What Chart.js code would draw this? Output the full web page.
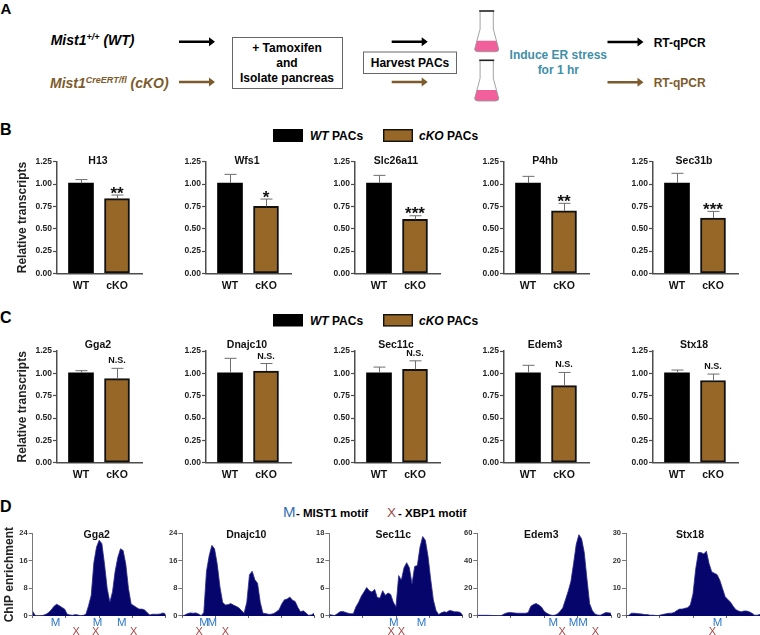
<!DOCTYPE html>
<html lang="en">
<head>
  <meta charset="UTF-8">
  <title>Mist1 cKO RT-qPCR and ChIP</title>
  <script src="https://cdn.jsdelivr.net/npm/chart.js"></script>
  <style>
    body { margin: 0; background: white; font-family: 'Liberation Sans', Arial, sans-serif; }
    #page { position: relative; width: 760px; height: 635px; overflow: hidden; }
    #page canvas { position: absolute; }
    #page svg { position: absolute; left: 0; top: 0; }
    svg text { font-weight: bold; font-family: 'Liberation Sans', Arial, sans-serif; }
  </style>
</head>
<body>
<div id="page">
  <svg width="760" height="635">
    <defs>
      <path id="arrow" d="M0 -1.3H30V-4.5L36 0L30 4.5V1.3H0Z"/>
      <g id="flask">
        <path d="M-9.8 29.7H9.8L12 38Q12.3 40.5 8.8 40.7H-8.8Q-12.3 40.5 -12 38Z" fill="#f2609c"/>
        <path d="M-6.6 0V18L-12 38Q-12.3 40.5 -8.8 40.7H8.8Q12.3 40.5 12 38L6.6 18V0" fill="none" stroke="#999" stroke-width="0.9"/>
        <rect x="-7.5" y="-0.8" width="15" height="1.6" fill="#222"/>
      </g>
    </defs>

    <text x="0.5" y="14" font-size="15">A</text>
    <text x="0" y="135" font-size="16">B</text>
    <text x="0" y="323" font-size="16">C</text>
    <text x="0" y="512" font-size="16">D</text>

    <text x="50.7" y="45" font-size="14" font-style="italic">Mist1<tspan font-size="9" dy="-5">+/+</tspan><tspan dy="5"> (WT)</tspan></text>
    <text x="50" y="87.7" font-size="14" font-style="italic" fill="#7d5b2c">Mist1<tspan font-size="9" dy="-5">CreERT/fl</tspan><tspan dy="5"> (cKO)</tspan></text>
    <use href="#arrow" x="179" y="41.7" fill="#000"/>
    <use href="#arrow" x="179" y="82" fill="#7d5b2c"/>

    <rect x="232.5" y="37.5" width="110" height="51" fill="none" stroke="#666" stroke-width="1"/>
    <text x="287" y="51.7" font-size="12" text-anchor="middle">+ Tamoxifen</text>
    <text x="287" y="66.7" font-size="12" text-anchor="middle">and</text>
    <text x="287" y="81.7" font-size="12" text-anchor="middle">Isolate pancreas</text>

    <rect x="363.5" y="52" width="93" height="21.5" fill="none" stroke="#666" stroke-width="1"/>
    <text x="410" y="66.5" font-size="12" text-anchor="middle">Harvest PACs</text>
    <use href="#arrow" x="391.7" y="41.7" fill="#000"/>
    <use href="#arrow" x="391.7" y="82" fill="#7d5b2c"/>

    <use href="#flask" x="486.7" y="11"/>
    <use href="#flask" x="486.7" y="60.3"/>

    <text x="558.3" y="59" font-size="12" fill="#3f8fa8" text-anchor="middle">Induce ER stress</text>
    <text x="558.3" y="74" font-size="12" fill="#3f8fa8" text-anchor="middle">for 1 hr</text>

    <use href="#arrow" x="607.5" y="42" fill="#000"/>
    <use href="#arrow" x="607.5" y="82.3" fill="#7d5b2c"/>
    <text x="653.7" y="46.7" font-size="12">RT-qPCR</text>
    <text x="653.7" y="86.7" font-size="12" fill="#7d5b2c">RT-qPCR</text>

    <rect x="273" y="129" width="30" height="13" fill="#000"/>
    <text x="310" y="140" font-size="12"><tspan font-style="italic">WT</tspan> PACs</text>
    <rect x="383.7" y="129.7" width="28.6" height="11.6" fill="#966726" stroke="#111" stroke-width="1.4"/>
    <text x="419" y="140" font-size="12"><tspan font-style="italic">cKO</tspan> PACs</text>

    <rect x="273" y="314" width="30" height="12.5" fill="#000"/>
    <text x="310" y="325" font-size="12"><tspan font-style="italic">WT</tspan> PACs</text>
    <rect x="383.7" y="314.7" width="28.6" height="11.2" fill="#966726" stroke="#111" stroke-width="1.4"/>
    <text x="419" y="325" font-size="12"><tspan font-style="italic">cKO</tspan> PACs</text>

    <text x="283" y="517" font-size="15" fill="#2f6fb5" style="font-weight:normal">M</text>
    <text x="296" y="517" font-size="11.5">- MIST1 motif</text>
    <text x="387" y="517" font-size="13.5" fill="#a04848" style="font-weight:normal">X</text>
    <text x="398" y="517" font-size="11.5">- XBP1 motif</text>
  </svg>
</div>

<script>
// panel B, C: relative transcripts, value then top of the error bar
const barGroups = ["WT", "cKO"];
const brown = "#966726";

const genesB = ["H13", "Wfs1", "Slc26a11", "P4hb", "Sec31b"];
const wtB = [1.01, 1.01, 1.01, 1.01, 1.01];
const wtTopB = [1.05, 1.108, 1.097, 1.086, 1.12];
const ckoB = [0.836, 0.75, 0.604, 0.70, 0.62];
const ckoTopB = [0.877, 0.832, 0.645, 0.784, 0.694];
const sigB = ["**", "*", "***", "**", "***"];

const genesC = ["Gga2", "Dnajc10", "Sec11c", "Edem3", "Stx18"];
const wtC = [1.007, 1.007, 1.007, 1.007, 1.007];
const wtTopC = [1.03, 1.168, 1.07, 1.09, 1.037];
const ckoC = [0.94, 1.026, 1.045, 0.862, 0.92];
const ckoTopC = [1.056, 1.11, 1.14, 1.01, 0.992];
const sigC = ["N.S.", "N.S.", "N.S.", "N.S.", "N.S."];

// panel D: ChIP tracks
const gga2Track = [1.4, 0.1, 0, 0.1, 0.2, 0.5, 1.0, 1.8, 2.8, 3.4, 3.0, 2.5, 2.0, 0.5, 0.3, 0.2, 0.4, 0.3, 0.1, 0.2, 0.5, 3, 6, 15.5, 20, 22, 21, 15, 8, 4, 7, 13, 17, 19.5, 19, 15, 8, 3.5, 3, 2.5, 2, 2, 1.8, 1, 0.3, 0.5, 0.5, 0.5, 0.6, 0.9, 0.5];
const dnajc10Track = [0, 0.3, 0.7, 0.9, 0.8, 0.9, 0.6, 0.1, 1, 13, 17.5, 20.5, 19.5, 15, 8.5, 4, 3.2, 3.3, 3.6, 3.2, 2.8, 2.4, 1.6, 0.8, 4, 12, 13, 10.5, 9.5, 4, 0.8, 0.7, 0.5, 0.5, 0.7, 1.2, 1.8, 3.5, 4.7, 4.9, 5.5, 4.6, 4.2, 2.5, 1.2, 1.5, 0.9, 0.2, 0.3, 0.8];
const sec11cTrack = [0.3, 0.2, 0.1, 0.5, 0.9, 1.0, 0.8, 0.6, 0.5, 0.5, 2, 3, 4.3, 5.2, 6.2, 5.5, 5.2, 5.8, 4.0, 3.9, 5.5, 4.5, 5, 4.7, 3, 2, 8.8, 7.8, 10.5, 11.6, 10.5, 7, 10.8, 11, 15, 17.3, 16.5, 13, 8, 3.5, 1.2, 0.3, 0.7, 0.9, 0.8, 1.2, 1.1, 0.9, 0.9, 0.8, 0.2];
const edem3Track = [0.5, 0.5, 0.5, 0.5, 0.5, 0.4, 0.3, 0.2, 0.1, 0.3, 1.5, 2.2, 2.6, 2.4, 2.2, 2, 2, 2, 2, 2.4, 7, 8.4, 9, 8, 6.5, 3.5, 2, 1, 0.4, 0.6, 1.5, 3.5, 6, 12, 18, 25, 38, 52, 59, 56, 46, 27, 9, 4, 1.5, 0.7, 0.6, 1.5, 2.5, 2.3, 2];
const stx18Track = [0, 0.2, 1, 1, 0.9, 0.8, 0.7, 0.5, 0.5, 0.3, 0.3, 0.2, 0.1, 0.4, 0.6, 0.8, 1, 1, 1.3, 2, 2.5, 2.5, 2.8, 3, 4, 8, 17, 23, 23, 22.5, 23.5, 19, 16, 15.5, 15, 13, 10, 7, 6, 5, 3.5, 2.3, 1.8, 1.5, 1.8, 1.8, 1.5, 1, 0.3, 0.3, 0.6];

const tracks = [gga2Track, dnajc10Track, sec11cTrack, edem3Track, stx18Track];
const trackMax = [24, 24, 18, 60, 30];
const trackStep = [8, 8, 6, 20, 10];

// motif sites in track bins
const mistSites = [[8.6, 24.4, 33.5], [8.1, 11.2], [24.2, 34.6], [28.4, 36, 39.5], [34.2]];
const xbpSites = [[16.3, 23.7, 38], [6.3, 16], [23.2, 27], [31.7, 44.2], [32.2]];

const FONT = "'Liberation Sans', Arial, sans-serif";
const page = document.getElementById("page");
const axisGray = "#4d4d4d";

function addCanvas(left, top, w, h) {
  const c = document.createElement("canvas");
  c.width = w; c.height = h;
  c.style.left = left + "px"; c.style.top = top + "px";
  page.appendChild(c);
  return c;
}

function barPanel(axisX, plotTop, gene, wt, wtTop, cko, ckoTop, sig, titleDy, yTitle) {
  const plotH = 111.7, axisLen = 85;
  const left = Math.floor(axisX) - 45, top = Math.floor(plotTop) - 20;
  const L = axisX - left, padTop = plotTop - top;
  const W = Math.ceil(L + axisLen + 2), H = Math.ceil(padTop + plotH + 26);
  const B = H - padTop - plotH;
  const tops = [wtTop, ckoTop];

  new Chart(addCanvas(left, top, W, H), {
    type: "bar",
    data: {
      datasets: [{
        data: [{ x: 1, y: wt }, { x: 2, y: cko }],
        backgroundColor: ["#000", brown],
        borderColor: "#111",
        borderWidth: [0, 2],
        borderSkipped: false,
        barThickness: 25
      }]
    },
    options: {
      responsive: false, animation: false,
      layout: { padding: { top: padTop, right: W - L - axisLen } },
      plugins: { legend: { display: false }, tooltip: { enabled: false } },
      scales: {
        x: {
          type: "linear", offset: false, min: 1 / 3, max: 1 / 3 + axisLen / 36,
          afterBuildTicks: s => { s.ticks = [{ value: 1 }, { value: 2 }]; },
          afterFit: s => { s.height = B; },
          grid: { offset: false, drawOnChartArea: false, drawTicks: false },
          border: { color: axisGray, width: 1.5 },
          ticks: { autoSkip: false, maxRotation: 0, padding: 6, color: "#111",
                   font: { family: FONT, size: 10.5, weight: "bold" },
                   callback: (v, i) => barGroups[i] }
        },
        y: {
          min: 0, max: 1.25,
          afterFit: s => { s.width = L; },
          grid: { drawOnChartArea: false, tickLength: 4, tickColor: axisGray, tickWidth: 1.2 },
          border: { color: axisGray, width: 1.5 },
          title: { display: !!yTitle, text: yTitle, color: "#222", padding: { top: 3.5, bottom: 0 },
                   font: { family: FONT, size: 12, weight: "bold" } },
          ticks: { stepSize: 0.25, padding: 1, color: "#222",
                   font: { family: FONT, size: 8.5, weight: "bold" },
                   callback: v => v.toFixed(2) }
        }
      }
    },
    plugins: [{
      id: "barNotes",
      afterDatasetsDraw(chart) {
        const { ctx, scales: { x, y } } = chart;
        ctx.save();
        ctx.strokeStyle = "#6e6e6e"; ctx.lineWidth = 1;
        [wt, cko].forEach((v, i) => {
          const px = Math.round(x.getPixelForValue(i + 1)) + 0.5;
          const py = y.getPixelForValue(tops[i]);
          ctx.beginPath();
          ctx.moveTo(px, y.getPixelForValue(v)); ctx.lineTo(px, py);
          ctx.moveTo(px - 6, py); ctx.lineTo(px + 6, py);
          ctx.stroke();
        });
        ctx.textAlign = "center"; ctx.fillStyle = "#111";
        const cx = x.getPixelForValue(2), errY = y.getPixelForValue(ckoTop);
        if (sig === "N.S.") {
          ctx.font = "bold 9px " + FONT;
          ctx.fillText(sig, cx, errY - 5);
        } else {
          ctx.font = "bold 17px " + FONT;
          ctx.fillText(sig, cx, errY + 3.5);
        }
        ctx.font = "bold 10.5px " + FONT;
        ctx.fillText(gene, axisX - left + 41, plotTop - top + titleDy);
        ctx.restore();
      }
    }]
  });
}

function trackPanel(axisX, axisLen, i, yTitle) {
  const plotTop = 533.3, plotH = 82.7;
  const left = Math.max(Math.floor(axisX) - 32, 0), top = Math.floor(plotTop) - 12;
  const L = axisX - left, padTop = plotTop - top;
  const W = Math.min(Math.ceil(L + axisLen + 2), 760 - left), H = 635 - top;
  const B = H - padTop - plotH;
  const last = tracks[i].length - 1;

  new Chart(addCanvas(left, top, W, H), {
    type: "line",
    data: {
      datasets: [{
        data: tracks[i].map((v, k) => ({ x: k, y: v })),
        borderColor: "#2a2a8c", borderWidth: 0.8,
        backgroundColor: "#05056b", fill: "origin",
        pointRadius: 0, tension: 0
      }]
    },
    options: {
      responsive: false, animation: false,
      layout: { padding: { top: padTop, right: W - L - axisLen } },
      plugins: { legend: { display: false }, tooltip: { enabled: false } },
      scales: {
        x: {
          type: "linear", min: 0, max: last,
          afterBuildTicks: s => { s.ticks = [0, 1, 2, 3, 4].map(q => ({ value: last * q / 4 })); },
          afterFit: s => { s.height = B; },
          grid: { drawOnChartArea: false, tickLength: 2, tickColor: "#666", tickWidth: 1 },
          border: { color: "#666", width: 1 },
          ticks: { display: false }
        },
        y: {
          min: 0, max: trackMax[i],
          afterFit: s => { s.width = L; },
          grid: { drawOnChartArea: false, tickLength: 4, tickColor: "#777", tickWidth: 1 },
          border: { color: "#777", width: 1 },
          title: { display: !!yTitle, text: yTitle, color: "#222", padding: { top: 2.8, bottom: 0 },
                   font: { family: FONT, size: 12, weight: "bold" } },
          ticks: { stepSize: trackStep[i], padding: 1, color: "#333",
                   font: { family: FONT, size: 7.5, weight: "bold" } }
        }
      }
    },
    plugins: [{
      id: "trackNotes",
      afterDatasetsDraw(chart) {
        const { ctx, scales: { x, y } } = chart;
        const zero = y.getPixelForValue(0);
        ctx.save();
        ctx.textAlign = "center";
        ctx.font = "11.5px " + FONT; ctx.fillStyle = "#2f78c8";
        mistSites[i].forEach(s => ctx.fillText("M", x.getPixelForValue(s), zero + 10));
        ctx.font = "11px " + FONT; ctx.fillStyle = "#a84848";
        xbpSites[i].forEach(s => ctx.fillText("X", x.getPixelForValue(s), zero + 18.5));
        ctx.font = "bold 10.5px " + FONT; ctx.fillStyle = "#111";
        ctx.fillText(genesC[i], L + 64, padTop + 5);
        ctx.restore();
      }
    }]
  });
}

const barAxes = [57, 206, 355, 504, 653];
barAxes.forEach((x, i) => {
  barPanel(x, 161.7, genesB[i], wtB[i], wtTopB[i], ckoB[i], ckoTopB[i], sigB[i], 2.6, i === 0 ? "Relative transcripts" : "");
  barPanel(x, 351, genesC[i], wtC[i], wtTopC[i], ckoC[i], ckoTopC[i], sigC[i], -3.3, i === 0 ? "Relative transcripts" : "");
});

const trackAxes = [32.7, 182.3, 329.3, 477.3, 626];
const trackLens = [133, 131.7, 133.4, 133.7, 134];
trackAxes.forEach((x, i) => trackPanel(x, trackLens[i], i, i === 0 ? "ChIP enrichment" : ""));
</script>
</body>
</html>
